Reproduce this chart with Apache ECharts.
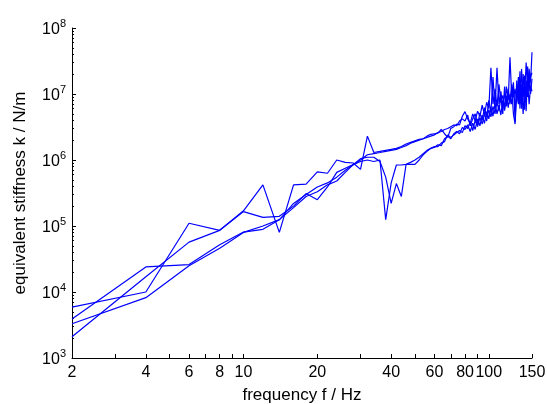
<!DOCTYPE html>
<html>
<head>
<meta charset="utf-8">
<script src="https://cdn.jsdelivr.net/npm/echarts@6/dist/echarts.min.js"></script>
<style>
  html, body { margin: 0; padding: 0; background: #fff; }
  #chart { width: 547px; height: 404px; }
</style>
</head>
<body>
<div id="chart"></div>
<script>
// frequency points (Hz)
const FREQ = [
  2, 4, 6, 8, 10, 12, 14, 16, 18, 20, 22, 24, 26, 28, 30, 32, 34, 36, 38, 40,
  42, 44, 46, 48, 50, 52, 54, 56, 58, 60, 62, 64, 66, 68, 70, 72, 74, 76, 78, 80,
  82, 84, 86, 88, 90, 92, 94, 96, 98, 100, 102, 104, 106, 108, 110, 112, 114, 116, 118, 120,
  122, 124, 126, 128, 130, 132, 134, 136, 138, 140, 142, 144, 146, 148, 150
]

// equivalent stiffness k (N/m), one array per measurement
const K_RUN_1 = [
  5.9e3, 1.0e4, 1.1e5, 8.6e4, 1.7e5, 4.2e5, 8.0e4, 4.2e5, 4.3e5, 6.6e5,
  6.3e5, 1.0e6, 9.2e5, 9.0e5, 7.2e5, 2.3e6, 1.3e6, 1.35e6, 1.4e6, 1.45e6,
  1.5e6, 1.6e6, 1.75e6, 1.85e6, 1.95e6, 2.05e6, 2.1e6, 2.3e6, 2.45e6, 2.5e6,
  2.55e6, 2.9e6, 2.5e6, 2.2e6, 3.0e6, 3.2e6, 3.5e6, 3.4e6, 4.6e6, 5.4e6,
  4.2e6, 3.6e6, 5.0e6, 3.9e6, 5.5e6, 4.6e6, 6.8e6, 4.8e6, 7.5e6, 6.0e6,
  2.5e7, 7.0e6, 1.2e7, 6.5e6, 1.4e7, 7.8e6, 9.5e6, 6.0e6, 1.3e7, 8.0e6,
  3.6e7, 9.0e6, 1.5e7, 3.8e6, 1.6e7, 8.5e6, 2.2e7, 6.0e6, 2.0e7, 1.0e7,
  3.0e7, 1.2e7, 2.4e7, 1.5e7, 4.3e7
]
const K_RUN_2 = [
  3.9e3, 2.4e4, 2.6e4, 5.2e4, 8.1e4, 8.9e4, 1.24e5, 2.2e5, 3.0e5, 3.9e5,
  4.5e5, 5.5e5, 7.0e5, 8.5e5, 1.0e6, 1.2e6, 1.25e6, 1.3e6, 1.35e6, 1.4e6,
  1.45e6, 1.55e6, 1.65e6, 1.8e6, 1.9e6, 2.0e6, 2.1e6, 2.2e6, 2.3e6, 2.4e6,
  2.6e6, 2.7e6, 2.9e6, 3.0e6, 3.2e6, 3.4e6, 3.3e6, 3.9e6, 4.2e6, 3.9e6,
  4.8e6, 3.3e6, 4.2e6, 5.0e6, 3.4e6, 5.2e6, 4.0e6, 6.2e6, 4.4e6, 8.0e6,
  5.2e6, 1.8e7, 6.0e6, 2.5e7, 7.0e6, 1.1e7, 6.4e6, 1.0e7, 7.5e6, 1.2e7,
  7.0e6, 1.4e7, 9.0e6, 1.2e7, 7.5e6, 1.8e7, 6.0e6, 2.4e7, 9.0e6, 1.9e7,
  5.5e6, 2.6e7, 1.1e7, 1.8e7, 2.1e7
]
const K_RUN_3 = [
  3.3e3, 8.2e3, 2.5e4, 4.6e4, 8.0e4, 1.0e5, 1.25e5, 1.9e5, 2.8e5, 3.3e5,
  4.2e5, 4.8e5, 6.5e5, 8.5e5, 9.5e5, 1.0e6, 9.5e5, 1.0e6, 1.25e5, 4.5e5,
  8.4e5, 8.4e5, 8.6e5, 9.2e5, 1.0e6, 1.1e6, 1.25e6, 1.4e6, 1.5e6, 1.6e6,
  1.6e6, 1.8e6, 1.9e6, 2.4e6, 2.2e6, 2.4e6, 2.6e6, 2.8e6, 2.6e6, 3.3e6,
  3.0e6, 3.8e6, 2.8e6, 4.0e6, 3.2e6, 4.4e6, 3.5e6, 5.0e6, 3.9e6, 5.8e6,
  4.5e6, 6.5e6, 5.0e6, 8.0e6, 5.5e6, 9.0e6, 5.0e6, 1.3e7, 6.5e6, 1.0e7,
  7.5e6, 1.2e7, 5.0e6, 3.5e6, 1.1e7, 7.0e6, 1.5e7, 8.0e6, 1.3e7, 5.8e6,
  1.6e7, 9.0e6, 2.0e7, 1.0e7, 1.7e7
]
const K_RUN_4 = [
  2.1e3, 1.7e4, 5.7e4, 8.6e4, 1.65e5, 1.35e5, 1.4e5, 2.0e5, 3.1e5, 2.5e5,
  3.9e5, 6.5e5, 7.5e5, 8.5e5, 1.05e6, 1.1e6, 1.1e6, 9.5e5, 5.5e5, 2.2e5,
  4.4e5, 2.8e5, 8.6e5, 8.6e5, 8.6e5, 1.0e6, 1.2e6, 1.35e6, 1.5e6, 1.55e6,
  1.7e6, 1.65e6, 2.1e6, 2.3e6, 2.1e6, 2.5e6, 2.7e6, 2.5e6, 3.1e6, 2.9e6,
  3.4e6, 2.7e6, 3.6e6, 2.9e6, 4.2e6, 3.3e6, 4.8e6, 3.6e6, 5.4e6, 4.2e6,
  6.2e6, 4.6e6, 7.2e6, 5.0e6, 6.8e6, 4.8e6, 8.0e6, 5.6e6, 9.5e6, 6.2e6,
  1.0e7, 7.0e6, 1.3e7, 6.0e6, 9.5e6, 1.2e7, 7.0e6, 1.4e7, 5.0e6, 1.2e7,
  8.0e6, 1.5e7, 7.0e6, 1.3e7, 1.1e7
]

const X_LABELS = [2, 4, 6, 8, 10, 20, 40, 60, 80, 100, 150]
const X_TICKS = [2, 3, 4, 5, 6, 7, 8, 9, 10, 20, 30, 40, 50, 60, 70, 80, 90, 100, 150]
const Y_DECADES = [1e3, 1e4, 1e5, 1e6, 1e7, 1e8]
const Y_MINOR = [2, 3, 4, 5, 6, 7, 8, 9]

const FONT = "Liberation Sans"
const LINE_COLOR = "#0000ff"

const yMinorTicks = []
Y_DECADES.slice(0, -1).forEach((decade) => {
  Y_MINOR.forEach((m) => yMinorTicks.push(m * decade))
})

function pairs(values) {
  return FREQ.map((f, i) => [f, values[i]])
}

function runSeries(values) {
  return {
    type: "line",
    data: pairs(values),
    showSymbol: false,
    symbol: "none",
    lineStyle: { color: LINE_COLOR, width: 1.2 },
    silent: true
  }
}

const chart = echarts.init(document.getElementById("chart"), null, { renderer: "canvas" })

const yBase = {
  type: "log",
  logBase: 10,
  min: 1e3,
  max: 1e8,
  gridIndex: 0,
  splitLine: { show: false }
}

chart.setOption({
  animation: false,
  // the x-axis name runs past the bottom edge in the original, so no auto-fitting
  grid: { left: 72, right: 15, top: 28, bottom: 46, containLabel: false, outerBoundsMode: "none" },
  textStyle: { fontFamily: FONT },
  xAxis: {
    type: "log",
    logBase: 10,
    min: 2,
    max: 150,
    name: "frequency f / Hz",
    nameLocation: "middle",
    nameGap: 29,
    nameTextStyle: { fontFamily: FONT, fontSize: 17, color: "#000" },
    axisLine: { lineStyle: { color: "#000", width: 1 } },
    axisTick: { inside: true, length: 4, customValues: X_TICKS, lineStyle: { color: "#000" } },
    axisLabel: {
      customValues: X_LABELS,
      margin: 7,
      fontFamily: FONT,
      fontSize: 16,
      color: "#000",
      formatter: (v) => String(Math.round(v))
    },
    splitLine: { show: false }
  },
  yAxis: [
    Object.assign({}, yBase, {
      name: "equivalent stiffness k / N/m",
      nameLocation: "middle",
      nameGap: 43,
      nameRotate: 90,
      nameTextStyle: { fontFamily: FONT, fontSize: 17, color: "#000" },
      axisLine: { lineStyle: { color: "#000", width: 1 } },
      axisTick: { inside: true, length: 2, customValues: yMinorTicks, lineStyle: { color: "#000" } },
      axisLabel: {
        customValues: Y_DECADES,
        margin: 6,
        color: "#000",
        formatter: (v) => "{b|10}{s|" + Math.round(Math.log10(v)) + "}",
        rich: {
          b: { fontFamily: FONT, fontSize: 16, color: "#000", verticalAlign: "bottom" },
          s: { fontFamily: FONT, fontSize: 11, color: "#000", verticalAlign: "bottom", padding: [0, 0, 9, 0] }
        }
      }
    }),
    Object.assign({}, yBase, {
      position: "left",
      axisLine: { show: false },
      axisTick: { inside: true, length: 4, customValues: Y_DECADES, lineStyle: { color: "#000" } },
      axisLabel: { show: false }
    })
  ],
  series: [
    runSeries(K_RUN_1),
    runSeries(K_RUN_2),
    runSeries(K_RUN_3),
    runSeries(K_RUN_4)
  ]
})
</script>
</body>
</html>
